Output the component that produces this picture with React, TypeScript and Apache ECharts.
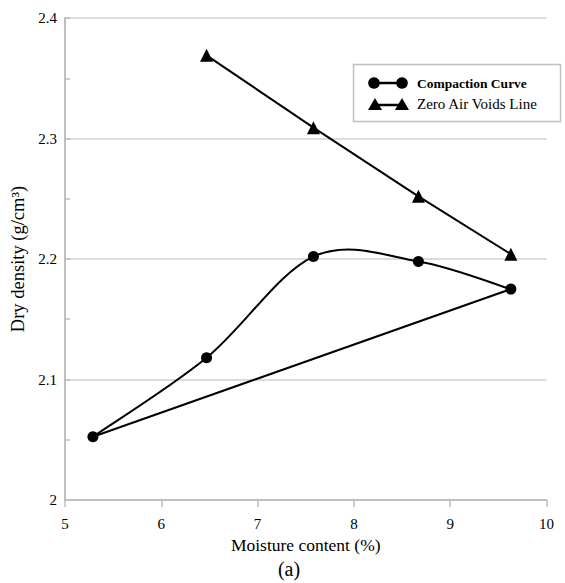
import React, { useEffect, useRef } from "react";
import * as echarts from "echarts";

const compactionX = [5.29, 6.47, 7.58, 8.67, 9.63];
const compactionY = [2.0525, 2.118, 2.202, 2.198, 2.175];
const zavX = [6.47, 7.58, 8.67, 9.63];
const zavY = [2.369, 2.309, 2.252, 2.204];
const legendNames = ["Compaction Curve", "Zero Air Voids Line"];
const xName = "Moisture content (%)";
const yName = "Dry density (g/cm³)";
const caption = "(a)";

const FONT = "Liberation Serif";

export default function App() {
  const ref = useRef<HTMLDivElement>(null);
  useEffect(() => {
    if (!ref.current) return;
    const chart = echarts.init(ref.current, undefined, { renderer: "svg" });
    const comp = compactionX.map((x, i) => [x, compactionY[i]]);
    const zav = zavX.map((x, i) => [x, zavY[i]]);
    const closing = [comp[comp.length - 1], comp[0]];
    const lx1 = 374;
    const lx2 = 402;
    const r1 = 83;
    const r2 = 104;

    const renderCurve = (params: any, api: any) => {
      if (params.dataIndex !== 0) return null;
      const pts = comp.map((p) => api.coord(p));
      const n = pts.length;
      let d = `M${pts[0][0]},${pts[0][1]}`;
      for (let i = 0; i < n - 1; i++) {
        const p0 = pts[i === 0 ? 0 : i - 1];
        const p1 = pts[i];
        const p2 = pts[i + 1];
        const p3 = pts[i + 2 < n ? i + 2 : n - 1];
        const c1x = p1[0] + (p2[0] - p0[0]) / 6;
        const c1y = p1[1] + (p2[1] - p0[1]) / 6;
        const c2x = p2[0] - (p3[0] - p1[0]) / 6;
        const c2y = p2[1] - (p3[1] - p1[1]) / 6;
        d += ` C${c1x},${c1y} ${c2x},${c2y} ${p2[0]},${p2[1]}`;
      }
      return {
        type: "path",
        shape: { pathData: d },
        style: { fill: "none", stroke: "#000", lineWidth: 2 },
      };
    };

    chart.setOption({
      animation: false,
      backgroundColor: "#fff",
      textStyle: { fontFamily: FONT },
      grid: { left: 65, right: 18.5, top: 18, bottom: 83, containLabel: false },
      xAxis: {
        type: "value",
        min: 5,
        max: 10,
        interval: 1,
        name: xName,
        nameLocation: "middle",
        nameGap: 33,
        nameTextStyle: { fontFamily: FONT, fontSize: 17.5, color: "#000" },
        axisLine: { show: true, lineStyle: { color: "#bfbfbf", width: 2 } },
        axisTick: { show: true, length: 7, lineStyle: { color: "#bfbfbf", width: 1.5 } },
        axisLabel: { fontFamily: FONT, fontSize: 15, color: "#000", margin: 16 },
        splitLine: { show: false },
      },
      yAxis: {
        type: "value",
        min: 2,
        max: 2.4,
        interval: 0.1,
        name: yName,
        nameLocation: "middle",
        nameGap: 32,
        nameTextStyle: { fontFamily: FONT, fontSize: 18.5, color: "#000" },
        axisLine: { show: true, lineStyle: { color: "#bfbfbf", width: 2 } },
        axisTick: { show: true, inside: true, length: 5, lineStyle: { color: "#bfbfbf", width: 1.5 } },
        minorTick: { show: true, splitNumber: 2, length: 5, lineStyle: { color: "#bfbfbf", width: 1.5 } },
        axisLabel: { fontFamily: FONT, fontSize: 15, color: "#000", margin: 8 },
        splitLine: { show: true, lineStyle: { color: "#d0d0d0", width: 1.5 } },
      },
      series: [
        {
          type: "custom",
          name: legendNames[0] + " curve",
          data: comp,
          renderItem: renderCurve,
          encode: { x: 0, y: 1 },
          z: 2,
        },
        {
          type: "line",
          name: legendNames[0],
          data: comp,
          symbol: "circle",
          symbolSize: 11,
          itemStyle: { color: "#000" },
          lineStyle: { width: 0, opacity: 0 },
          z: 4,
        },
        {
          type: "line",
          name: legendNames[0] + " closing",
          data: closing,
          symbol: "none",
          lineStyle: { color: "#000", width: 2 },
          z: 2,
        },
        {
          type: "line",
          name: legendNames[1],
          data: zav,
          symbol: "triangle",
          symbolSize: 13,
          itemStyle: { color: "#000" },
          lineStyle: { color: "#000", width: 2 },
          z: 3,
        },
      ],
      graphic: [
        {
          type: "rect",
          shape: { x: 353.5, y: 64.5, width: 207, height: 57 },
          style: { fill: "#fff", stroke: "#bfbfbf", lineWidth: 1.5 },
          z: 10,
        },
        { type: "line", shape: { x1: lx1, y1: r1, x2: lx2, y2: r1 }, style: { stroke: "#000", lineWidth: 2.5 }, z: 11 },
        { type: "circle", shape: { cx: lx1, cy: r1, r: 5.8 }, style: { fill: "#000" }, z: 11 },
        { type: "circle", shape: { cx: lx2, cy: r1, r: 5.8 }, style: { fill: "#000" }, z: 11 },
        {
          type: "text",
          x: 417,
          y: r1,
          style: { text: legendNames[0], fontFamily: FONT, fontSize: 13.5, fontWeight: "bold", fill: "#000", verticalAlign: "middle" },
          z: 11,
        },
        { type: "line", shape: { x1: lx1, y1: r2 + 1, x2: lx2, y2: r2 + 1 }, style: { stroke: "#000", lineWidth: 2.5 }, z: 11 },
        {
          type: "polygon",
          shape: { points: [[lx1 + 1, r2 - 6], [lx1 + 8, r2 + 6], [lx1 - 6, r2 + 6]] },
          style: { fill: "#000" },
          z: 11,
        },
        {
          type: "polygon",
          shape: { points: [[lx2, r2 - 6], [lx2 + 7, r2 + 6], [lx2 - 7, r2 + 6]] },
          style: { fill: "#000" },
          z: 11,
        },
        {
          type: "text",
          x: 417,
          y: r2,
          style: { text: legendNames[1], fontFamily: FONT, fontSize: 15, fill: "#000", verticalAlign: "middle" },
          z: 11,
        },
        {
          type: "text",
          x: 289,
          y: 569,
          style: { text: caption, fontFamily: FONT, fontSize: 20, fill: "#000", align: "center", verticalAlign: "middle" },
        },
      ],
    });
    return () => chart.dispose();
  }, []);
  return (
    <div
      ref={ref}
      style={{ position: "absolute", left: 0, top: 0, width: 565, height: 583, background: "#fff" }}
    />
  );
}
